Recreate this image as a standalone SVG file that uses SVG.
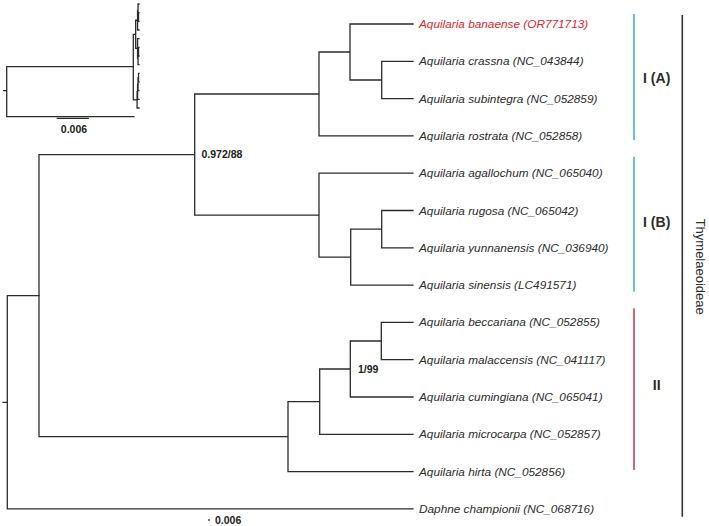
<svg xmlns="http://www.w3.org/2000/svg" xmlns:xlink="http://www.w3.org/1999/xlink" width="709" height="526" viewBox="0 0 709 526">
<style>
.br{fill:none;stroke:#2b2b2b;stroke-width:1.3;stroke-linecap:square}
.tip{font-family:"Liberation Sans",Arial,sans-serif;font-style:italic;font-size:11.8px;fill:#2b2b2b}
.red{fill:#e0262c}
.sup{font-family:"Liberation Sans",Arial,sans-serif;font-weight:bold;font-size:10.5px;fill:#222}
.clade{font-family:"Liberation Sans",Arial,sans-serif;font-weight:bold;font-size:14px;fill:#2b2b2b}
.sub{font-family:"Liberation Sans",Arial,sans-serif;font-size:13px;fill:#2b2b2b}
.bar{stroke-width:1.6;fill:none}
</style>
<defs>
<path id="aq" class="br" vector-effect="non-scaling-stroke" d="M381.7,61.3V98.6M381.7,61.3H413M381.7,98.6H413M350,24V80M350,24H413M350,80H381.7M319,52V135.9M319,52H350M319,135.9H413M194.7,94V215.2M194.7,94H319M194.7,215.2H319M381.7,210.5V247.8M381.7,210.5H413M381.7,247.8H413M350.7,229.2V285.1M350.7,229.2H381.7M350.7,285.1H413M319,173.2V257.1M319,173.2H413M319,257.1H350.7M39,154.6V436.6M39,154.6H194.7M39,436.6H288M381.3,322.4V359.7M381.3,322.4H413M381.3,359.7H413M350.3,341V397M350.3,341H381.3M350.3,397H413M319.7,369V434.3M319.7,369H350.3M319.7,434.3H413M288,401.7V471.6M288,401.7H319.7M288,471.6H413"/>
</defs>
<rect width="709" height="526" fill="#fff"/>
<g id="connectors">
<use xlink:href="#aq" href="#aq"/>
<path class="br" d="M7.3,295.6V508.9M7.3,295.6H39M7.3,508.9H413M3,402.3H7.3"/>
</g>
<g id="inset">
<use xlink:href="#aq" href="#aq" transform="translate(132.71,-1.575) scale(0.0152,0.2323)"/>
<path class="br" d="M6.7,66.7V116.7M6.7,66.7H133.3M6.7,116.7H134M3.5,90.7H6.7"/>
<path class="br" d="M57.3,118.3H88.3"/>
<text class="sup" x="74" y="132.5" text-anchor="middle">0.006</text>
</g>
<g id="scale">
<path class="br" d="M208.6,520H209.4"/>
<text class="sup" x="215" y="523.5">0.006</text>
</g>
<g id="support">
<text class="sup" x="201.5" y="158">0.972/88</text>
<text class="sup" x="358" y="372.7">1/99</text>
</g>
<g id="tips">
<g id="t1"><text class="tip red" x="419" y="28">Aquilaria banaense (OR771713)</text></g>
<g id="t2"><text class="tip" x="419" y="65.3">Aquilaria crassna (NC_043844)</text></g>
<g id="t3"><text class="tip" x="419" y="102.6">Aquilaria subintegra (NC_052859)</text></g>
<g id="t4"><text class="tip" x="419" y="139.9">Aquilaria rostrata (NC_052858)</text></g>
<g id="t5"><text class="tip" x="419" y="177.2">Aquilaria agallochum (NC_065040)</text></g>
<g id="t6"><text class="tip" x="419" y="214.5">Aquilaria rugosa (NC_065042)</text></g>
<g id="t7"><text class="tip" x="419" y="251.8">Aquilaria yunnanensis (NC_036940)</text></g>
<g id="t8"><text class="tip" x="419" y="289.1">Aquilaria sinensis (LC491571)</text></g>
<g id="t9"><text class="tip" x="419" y="326.4">Aquilaria beccariana (NC_052855)</text></g>
<g id="t10"><text class="tip" x="419" y="363.7">Aquilaria malaccensis (NC_041117)</text></g>
<g id="t11"><text class="tip" x="419" y="401">Aquilaria cumingiana (NC_065041)</text></g>
<g id="t12"><text class="tip" x="419" y="438.3">Aquilaria microcarpa (NC_052857)</text></g>
<g id="t13"><text class="tip" x="419" y="475.6">Aquilaria hirta (NC_052856)</text></g>
<g id="t14"><text class="tip" x="419" y="512.9">Daphne championii (NC_068716)</text></g>
</g>
<g id="cladeIA">
<path class="bar" stroke="#3fb3d9" d="M634,14V140"/>
<text class="clade" x="656.7" y="83" text-anchor="middle">I (A)</text>
</g>
<g id="cladeIB">
<path class="bar" stroke="#3fb3d9" d="M634,156.7V291.7"/>
<text class="clade" x="656.7" y="227" text-anchor="middle">I (B)</text>
</g>
<g id="cladeII">
<path class="bar" stroke="#c44256" d="M634,308.3V470"/>
<text class="clade" x="656.7" y="390" text-anchor="middle">II</text>
</g>
<g id="subfamily">
<path class="bar" stroke="#333" d="M682.3,15V516.7"/>
<text class="sub" transform="translate(695.5,266.7) rotate(90)" text-anchor="middle">Thymelaeoideae</text>
</g>
</svg>
